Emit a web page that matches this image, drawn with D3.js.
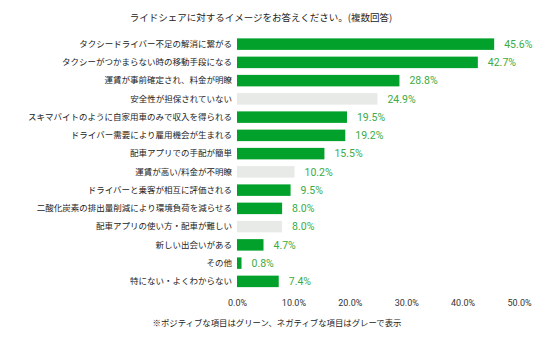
<!DOCTYPE html>
<html><head><meta charset="utf-8">
<script src="https://cdn.jsdelivr.net/npm/d3@7"></script>
<style>body{margin:0;background:#fff}svg{display:block}</style>
</head><body><svg id="c" width="536" height="341"></svg>
<script>
const title = "ライドシェアに対するイメージをお答えください。(複数回答)";
const footnote = "※ポジティブな項目はグリーン、ネガティブな項目はグレーで表示";
const categories = [
  "タクシードライバー不足の解消に繋がる",
  "タクシーがつかまらない時の移動手段になる",
  "運賃が事前確定され、料金が明瞭",
  "安全性が担保されていない",
  "スキマバイトのように自家用車のみで収入を得られる",
  "ドライバー需要により雇用機会が生まれる",
  "配車アプリでの手配が簡単",
  "運賃が高い/料金が不明瞭",
  "ドライバーと乗客が相互に評価される",
  "二酸化炭素の排出量削減により環境負荷を減らせる",
  "配車アプリの使い方・配車が難しい",
  "新しい出会いがある",
  "その他",
  "特にない・よくわからない"
];
const values = [45.6, 42.7, 28.8, 24.9, 19.5, 19.2, 15.5, 10.2, 9.5, 8.0, 8.0, 4.7, 0.8, 7.4];
const positive = [true, true, true, false, true, true, true, false, true, true, false, true, true, true];
const ticks = [0, 10, 20, 30, 40, 50];

const svg = d3.select("#c");
const font = "'Noto Sans CJK JP', 'Noto Sans', sans-serif";
const x = d3.scaleLinear().domain([0, 50]).range([237, 519]);
const y = d3.scaleBand().domain(categories).range([35, 290.5]).paddingInner(0.37).paddingOuter(0.185);

svg.append("text").attr("x", 261).attr("y", 21).attr("text-anchor", "middle")
  .attr("font-family", font).attr("font-size", 9.5).attr("fill", "#222").text(title);

svg.selectAll("rect.bar").data(values).join("rect").attr("class", "bar")
  .attr("x", x(0)).attr("y", (d, i) => y(categories[i]))
  .attr("width", d => x(d) - x(0)).attr("height", y.bandwidth())
  .attr("fill", (d, i) => positive[i] ? "#02a12b" : "#e8eae8");

svg.selectAll("text.val").data(values).join("text").attr("class", "val")
  .attr("x", d => x(d) + 10).attr("y", (d, i) => y(categories[i]) + y.bandwidth() / 2)
  .attr("dy", "0.35em").attr("font-family", "Roboto, sans-serif").attr("font-size", 10.5)
  .attr("fill", "#3aab45").text(d => d.toFixed(1) + "%");

const yAxis = d3.axisLeft(y).tickSize(0).tickPadding(5);
const gy = svg.append("g").attr("transform", `translate(${x(0)},0)`).call(yAxis);
gy.select(".domain").remove();
gy.selectAll("text").attr("font-family", font).attr("font-size", 8.5).attr("fill", "#222");

const xAxis = d3.axisBottom(x).tickValues(ticks).tickSize(0).tickPadding(0).tickFormat(d => d.toFixed(1) + "%");
const gx = svg.append("g").attr("transform", "translate(0,300)").call(xAxis);
gx.select(".domain").remove();
gx.selectAll("text").attr("font-family", "Roboto, sans-serif").attr("font-size", 9).attr("fill", "#333");

svg.append("text").attr("x", 277).attr("y", 326).attr("text-anchor", "middle")
  .attr("font-family", font).attr("font-size", 8.4).attr("fill", "#222").text(footnote);
</script></body></html>
